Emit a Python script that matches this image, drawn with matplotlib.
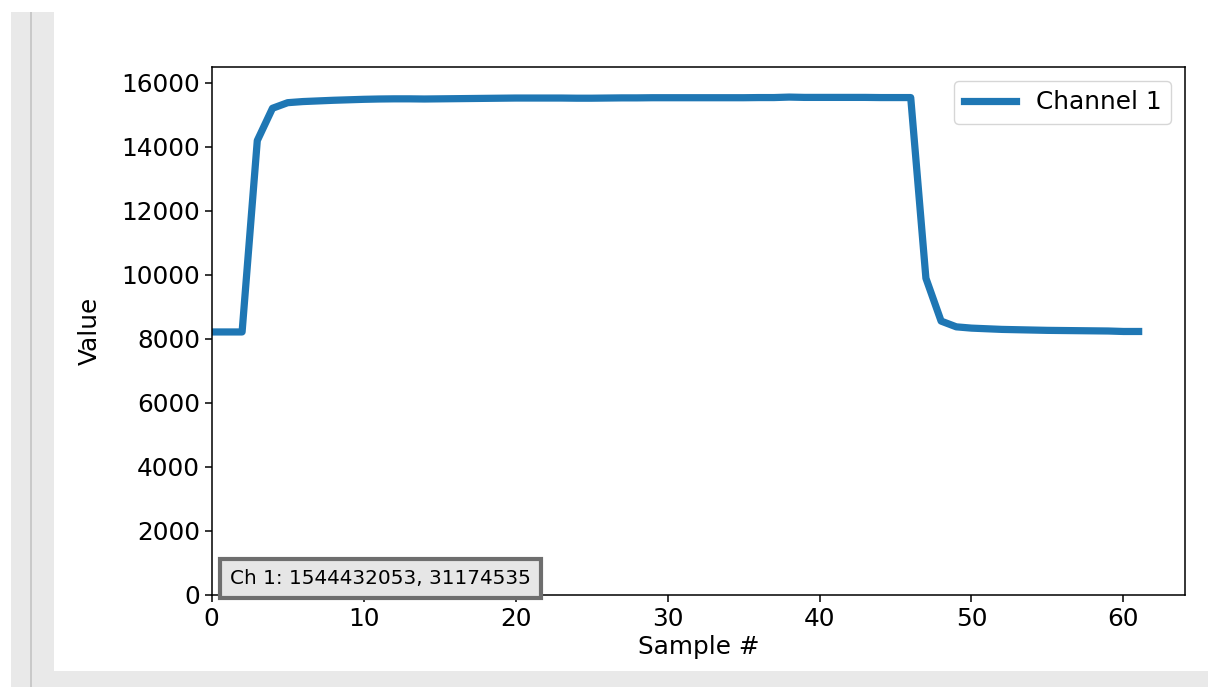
import matplotlib
matplotlib.use("Agg")
import matplotlib.pyplot as plt
from matplotlib.patches import Rectangle

# ---- data ----
samples = list(range(62))
channel1 = [8220, 8220, 8220, 14200, 15210, 15385, 15420, 15440, 15460, 15475,
            15490, 15500, 15505, 15505, 15500, 15505, 15510, 15515, 15520, 15525,
            15530, 15530, 15530, 15530, 15525, 15525, 15530, 15535, 15535, 15540,
            15540, 15540, 15540, 15540, 15540, 15540, 15545, 15545, 15560, 15550,
            15550, 15550, 15550, 15550, 15545, 15545, 15545, 9900, 8560, 8380,
            8340, 8320, 8300, 8290, 8280, 8270, 8265, 8260, 8255, 8250, 8235, 8235]
series_label = "Channel 1"
info_text = "Ch 1: 1544432053, 31174535"
x_label = "Sample #"
y_label = "Value"

W, H = 1208, 687
fig = plt.figure(figsize=(W / 100, H / 100), dpi=100)
fig.patch.set_facecolor("white")

def px_rect(x0, y0, x1, y1, color):
    fig.patches.append(Rectangle((x0 / W, 1 - y1 / H), (x1 - x0) / W, (y1 - y0) / H,
                                 transform=fig.transFigure, facecolor=color,
                                 edgecolor="none", zorder=-10))

# page frame (gray strips of the screenshot)
px_rect(11, 12, 54, 687, "#e9e9e9")
px_rect(11, 671, 1208, 687, "#e9e9e9")
px_rect(30, 12, 32, 687, "#c9c9c9")

ax = fig.add_axes([211.7 / W, 1 - 595 / H, (1185 - 211.7) / W, (595 - 67) / H])
ax.plot(samples, channel1, color="#1f77b4", linewidth=5.2, label=series_label,
        solid_joinstyle="round")
ax.set_xlim(left=0)
ax.set_ylim(0, 16500)
ax.set_yticks(range(0, 16001, 2000))
ax.set_xticks(range(0, 61, 10))

fs = 17.8
ax.tick_params(labelsize=fs, length=5, width=1.1)
for s in ax.spines.values():
    s.set_linewidth(1.1)
ax.set_xlabel(x_label, fontsize=fs, labelpad=3)
ax.set_ylabel(y_label, fontsize=fs, labelpad=14)

ax.legend(loc="upper right", fontsize=fs, handlelength=2.1, borderaxespad=0.55)

ax.text(0.019, 0.014, info_text, transform=ax.transAxes, fontsize=14.4,
        ha="left", va="bottom",
        bbox=dict(boxstyle="square,pad=0.5", facecolor="#e6e6e6",
                  edgecolor="#6e6e6e", linewidth=3))

fig.savefig("out.png", dpi=100)
